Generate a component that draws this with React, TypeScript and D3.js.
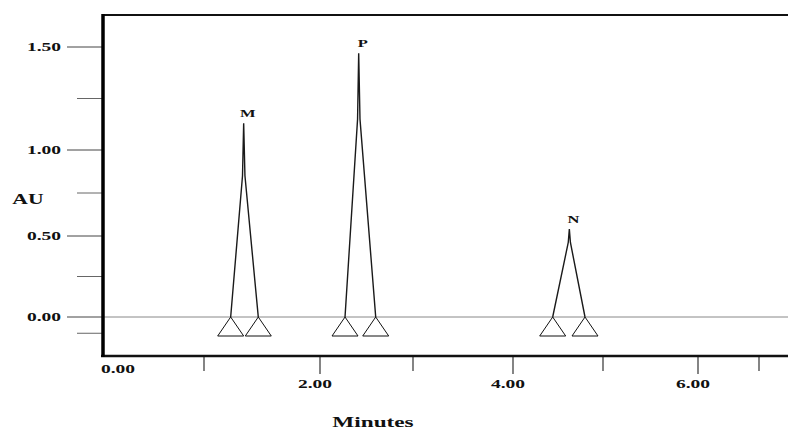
import React from "react";
import * as d3 from "d3";

// axis ticks
const xMajorTicks = [0, 2, 4, 6];
const xMinorTicks = [1, 3, 5, 7];
const yMajorTicks = [0, 0.5, 1.0, 1.5];
const yMinorTicks = [-0.1, 0.25, 0.75, 1.25];

// peaks: base left, shoulder, apex, shoulder, base right
const peakNames = ["M", "P", "N"];
const peakTimes = [
  [1.23, 1.332, 1.342, 1.353, 1.468],
  [2.269, 2.404, 2.416, 2.43, 2.599],
  [4.441, 4.614, 4.626, 4.638, 4.8],
];
const peakAU = [
  [0, 0.85, 1.13, 0.85, 0],
  [0, 1.15, 1.47, 1.15, 0],
  [0, 0.46, 0.54, 0.46, 0],
];

const W = 788;
const H = 431;

// the printout is unevenly stretched, so both scales are piecewise
const x = d3
  .scaleLinear()
  .domain([0, 1, 2, 3, 4, 5, 6, 7, 7.48])
  .range([103, 204, 320, 413, 513, 603, 698, 759, 788]);
const y = d3
  .scaleLinear()
  .domain([-0.24, 0, 0.5, 1, 1.5, 1.655])
  .range([356, 317, 236, 150, 47, 15]);

const font = "'Liberation Serif', 'Times New Roman', serif";

function Label(props: {
  x: number;
  y: number;
  text: string;
  size: number;
  anchor: string;
  sx?: number;
}) {
  const sx = props.sx ?? 1.5;
  return (
    <text
      transform={`translate(${props.x},${props.y}) scale(${sx},1)`}
      textAnchor={props.anchor}
      dominantBaseline="central"
      fontFamily={font}
      fontWeight="bold"
      fontSize={props.size}
      fill="#111"
    >
      {props.text}
    </text>
  );
}

export default function App() {
  const line = d3.line<[number, number]>();
  const x0 = x.range()[0];
  const yBottom = y.range()[0];
  const yTop = y(1.655);

  return (
    <svg
      width={W}
      height={H}
      style={{ position: "absolute", left: 0, top: 0, background: "#fff" }}
    >
      {/* baseline */}
      <line x1={x0} x2={W} y1={y(0)} y2={y(0)} stroke="#888" strokeWidth={1} />

      {/* peaks */}
      {peakNames.map((name, i) => {
        const pts = peakTimes[i].map((t, j) => [x(t), y(peakAU[i][j])] as [number, number]);
        const apex = pts[2];
        const bases = [pts[0], pts[4]];
        return (
          <g key={name}>
            <path d={line(pts) || ""} fill="none" stroke="#1a1a1a" strokeWidth={1.4} />
            {bases.map((b, k) => (
              <path
                key={k}
                d={`M${b[0]},${b[1]} L${b[0] - 13},${b[1] + 19} L${b[0] + 13},${b[1] + 19} Z`}
                fill="none"
                stroke="#111"
                strokeWidth={1}
              />
            ))}
            <Label x={apex[0] + 4} y={apex[1] - 10} text={name} size={11} anchor="middle" />
          </g>
        );
      })}

      {/* y ticks */}
      {yMajorTicks.map((v) => (
        <g key={"ym" + v}>
          <line x1={67} x2={x0} y1={y(v)} y2={y(v)} stroke="#444" strokeWidth={1} />
          <Label x={61} y={y(v)} text={v.toFixed(2)} size={13} anchor="end" />
        </g>
      ))}
      {yMinorTicks.map((v) => (
        <line key={"yn" + v} x1={77} x2={x0} y1={y(v)} y2={y(v)} stroke="#666" strokeWidth={1} />
      ))}

      {/* x ticks */}
      {xMajorTicks.map((v) => (
        <g key={"xm" + v}>
          {v > 0 && (
            <line x1={x(v)} x2={x(v)} y1={yBottom} y2={yBottom + 18} stroke="#333" strokeWidth={1.2} />
          )}
          <Label
            x={v === 0 ? x(v) - 2 : x(v) - 5}
            y={v === 0 ? 369 : 384}
            text={v.toFixed(2)}
            size={13}
            anchor={v === 0 ? "start" : "middle"}
          />
        </g>
      ))}
      {xMinorTicks.map((v) => (
        <line key={"xn" + v} x1={x(v)} x2={x(v)} y1={yBottom} y2={yBottom + 15} stroke="#333" strokeWidth={1.2} />
      ))}

      {/* frame */}
      <line x1={x0} x2={W} y1={yTop} y2={yTop} stroke="#111" strokeWidth={2} />
      <line x1={x0 - 2} x2={W} y1={yBottom} y2={yBottom} stroke="#111" strokeWidth={2.5} />
      <line x1={x0} x2={x0} y1={yTop - 1} y2={yBottom + 1} stroke="#000" strokeWidth={3.5} />

      {/* axis titles */}
      <Label x={28} y={199} text="AU" size={14} anchor="middle" sx={1.55} />
      <Label x={373} y={422} text="Minutes" size={15} anchor="middle" sx={1.55} />
    </svg>
  );
}
